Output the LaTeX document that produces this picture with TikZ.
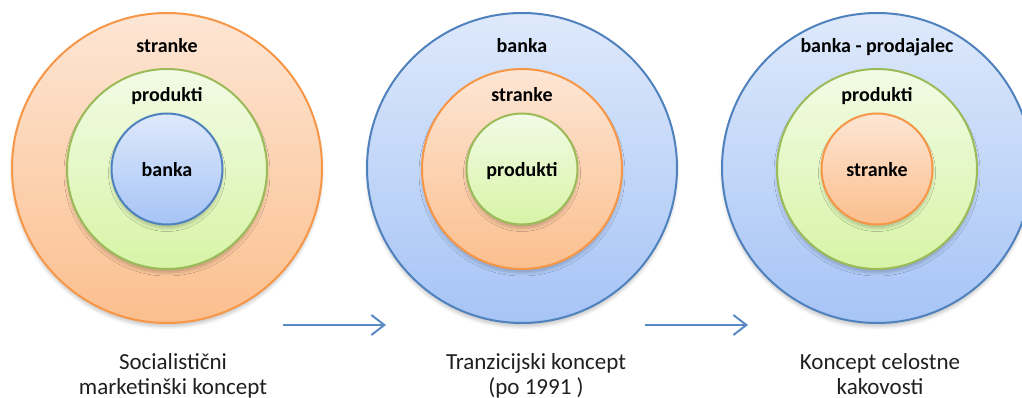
\documentclass[tikz,border=0pt]{standalone}
\usepackage{fontspec}
\setmainfont{Carlito}
\usetikzlibrary{arrows.meta,shadows.blur}

% ring colours
\definecolor{orangeLine}{HTML}{F79646}
\definecolor{orangeTop}{HTML}{FDE6D5}
\definecolor{orangeBot}{HTML}{FBBF8E}
\definecolor{greenLine}{HTML}{9BBB59}
\definecolor{greenTop}{HTML}{F2FBE6}
\definecolor{greenBot}{HTML}{D7F4A6}
\definecolor{blueLine}{HTML}{4F81BD}
\definecolor{blueTop}{HTML}{DEE9FB}
\definecolor{blueBot}{HTML}{A6C4F6}
\definecolor{arrowBlue}{HTML}{5A89C3}

\tikzset{
  ring/.style={circle, inner sep=0pt, line width=2pt,
    blur shadow={shadow xshift=0pt, shadow yshift=-4pt,
                 shadow blur radius=3pt, shadow opacity=20}},
  orangering/.style={ring, draw=orangeLine, top color=orangeTop, bottom color=orangeBot},
  greenring/.style={ring, draw=greenLine, top color=greenTop, bottom color=greenBot},
  bluering/.style={ring, draw=blueLine, top color=blueTop, bottom color=blueBot},
  outerR/.style={minimum size=310pt},
  midR/.style={minimum size=200pt},
  innerR/.style={minimum size=111pt},
  ringlabel/.style={anchor=base, inner sep=0pt, text=black,
    font=\fontsize{20}{24}\selectfont\bfseries},
  caption/.style={anchor=base, inner sep=0pt, text=black!88,
    font=\fontsize{23}{27}\selectfont},
  flow/.style={draw=arrowBlue, line width=2pt,
    -{Straight Barb[length=13pt, width=20pt]}}
}

\begin{document}
\begin{tikzpicture}[x=1pt, y=-1pt]
  \useasboundingbox (0,0) rectangle (1022,398);

  % socialist concept: customers > products > bank
  \node[orangering, outerR] (o1) at (167,168) {};
  \node[greenring, midR]    (m1) at (167,169) {};
  \node[bluering, innerR]   (i1) at (167,169) {};
  \node[ringlabel] (t1a) at (167,53)  {stranke};
  \node[ringlabel] (t1b) at (167,102) {produkti};
  \node[ringlabel] (t1c) at (167,177) {banka};

  % transition concept: bank > customers > products
  \node[bluering, outerR]   (o2) at (522,168) {};
  \node[orangering, midR]   (m2) at (522,169) {};
  \node[greenring, innerR]  (i2) at (522,169) {};
  \node[ringlabel] (t2a) at (522,53)  {banka};
  \node[ringlabel] (t2b) at (522,102) {stranke};
  \node[ringlabel] (t2c) at (522,177) {produkti};

  % total quality concept: bank-seller > products > customers
  \node[bluering, outerR]   (o3) at (877,168) {};
  \node[greenring, midR]    (m3) at (877,169) {};
  \node[orangering, innerR] (i3) at (877,169) {};
  \node[ringlabel] (t3a) at (877,53)  {banka - prodajalec};
  \node[ringlabel] (t3b) at (877,102) {produkti};
  \node[ringlabel] (t3c) at (877,177) {stranke};

  % flow arrows
  \coordinate (a1s) at (283,325);
  \coordinate (a1e) at (386,325);
  \coordinate (a2s) at (645,325);
  \coordinate (a2e) at (748,325);
  \draw[flow] (a1s) -- (a1e);
  \draw[flow] (a2s) -- (a2e);

  % captions
  \node[caption] (c1a) at (173,369) {Socialistični};
  \node[caption] (c1b) at (173,394) {marketinški koncept};
  \node[caption] (c2a) at (536,369) {Tranzicijski koncept};
  \node[caption] (c2b) at (536,394) {(po 1991 )};
  \node[caption] (c3a) at (880,369) {Koncept celostne};
  \node[caption] (c3b) at (880,394) {kakovosti};
\end{tikzpicture}
\end{document}
